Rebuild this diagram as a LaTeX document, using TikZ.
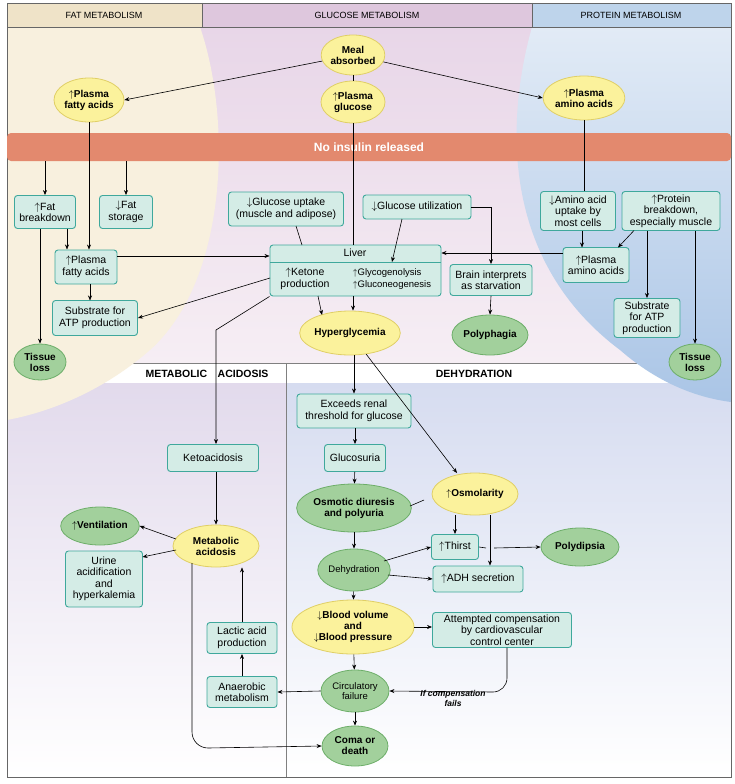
\documentclass[tikz,border=0pt]{standalone}
\usepackage{fontspec}
\setmainfont{Liberation Sans}
\usetikzlibrary{shapes.geometric,arrows.meta}
\definecolor{boxf}{HTML}{D4ECE6}\definecolor{boxd}{HTML}{3FA89C}
\definecolor{grf}{HTML}{A2D09C}\definecolor{grd}{HTML}{6DAE69}
\definecolor{yef}{HTML}{FBF29C}\definecolor{yed}{HTML}{E0CF66}
\definecolor{glt}{RGB}{232,214,232}\definecolor{glb}{RGB}{246,238,244}
\definecolor{llt}{RGB}{226,218,236}\definecolor{lrt}{RGB}{214,220,240}
\newcommand{\UA}{$\uparrow$}\newcommand{\DA}{$\downarrow$}
\begin{document}
\begin{tikzpicture}[x=1pt,y=-1pt,
 every node/.style={font=\fontsize{10.5}{11.5}\selectfont,align=center,inner sep=1pt},
 box/.style={draw=boxd,fill=boxf,line width=0.9pt,rounded corners=3pt,minimum width=#1},
 box/.default=0pt,
 gre/.style={ellipse,draw=grd,fill=grf,line width=0.8pt,font=\fontsize{10}{11}\selectfont\bfseries,inner sep=0pt},
 yel/.style={ellipse,draw=yed,fill=yef,line width=0.8pt,font=\fontsize{10}{11}\selectfont\bfseries,inner sep=0pt},
 ar/.style={-{Stealth[length=5pt,width=4pt]},line width=0.6pt},
 ln/.style={line width=0.6pt}]
\useasboundingbox (0,0) rectangle (734,784);
\fill[white] (0,0) rectangle (734,784);
% backgrounds
\shade[top color=glt,bottom color=glb] (7,27) rectangle (731,363);
\shade[top color=llt,bottom color=white] (7,383) rectangle (286,777);
\shade[top color=lrt,bottom color=white] (286,383) rectangle (731,777);
\fill[white] (7,363) rectangle (731,383);
\draw[gray,line width=1pt] (7,363) -- (731,363) (286,363) -- (286,777);
\fill[color={rgb,255:red,248;green,240;blue,222}] (7,27) -- (200,27) .. controls (232,120) and (228,280) .. (150,350) .. controls (110,385) and (60,410) .. (7,420) -- cycle;
\shade[top color={rgb,255:red,226;green,235;blue,246},bottom color={rgb,255:red,170;green,197;blue,230}] (532,27) .. controls (506,120) and (500,260) .. (620,350) .. controls (660,385) and (700,398) .. (731,402) -- (731,27) -- cycle;
% header
\fill[color={rgb,255:red,239;green,227;blue,200}] (7,3) rectangle (202,27);
\fill[color={rgb,255:red,222;green,199;blue,221}] (202,3) rectangle (532,27);
\fill[color={rgb,255:red,190;green,212;blue,235}] (532,3) rectangle (731,27);
\draw[gray!80!black,line width=0.8pt] (7,3) rectangle (731,777) (7,27) -- (731,27) (202,3) -- (202,27) (532,3) -- (532,27);
\node[font=\fontsize{9}{10}\selectfont] (h1) at (104,15) {FAT METABOLISM};
\node[font=\fontsize{9}{10}\selectfont] (h2) at (367,15) {GLUCOSE METABOLISM};
\node[font=\fontsize{9}{10}\selectfont] (h3) at (631,15) {PROTEIN METABOLISM};
\node[font=\fontsize{10.5}{11}\selectfont\bfseries] (h4) at (207,374) {METABOLIC\quad ACIDOSIS};
\node[font=\fontsize{10.5}{11}\selectfont\bfseries] (h5) at (474,374) {DEHYDRATION};
% bar
\node[fill={rgb,255:red,227;green,137;blue,110},rounded corners=4pt,minimum width=724pt,minimum height=28pt,text=white,font=\fontsize{12}{13}\selectfont\bfseries] (bar) at (369,147) {No insulin released};
% top ellipses
\node[yel,minimum width=58pt,minimum height=40pt] (meal) at (353,55) {Meal\\absorbed};
\node[yel,minimum width=70pt,minimum height=44pt] (pfa) at (89,100) {\UA Plasma\\fatty acids};
\node[yel,minimum width=64pt,minimum height=42pt] (pg) at (353,102) {\UA Plasma\\glucose};
\node[yel,minimum width=78pt,minimum height=44pt] (paa) at (584,98) {\UA Plasma\\amino acids};
% fat
\node[box=61pt,minimum height=33pt] (fb) at (45,212) {\UA Fat\\breakdown};
\node[box=53pt,minimum height=33pt] (fs) at (126,212) {\DA Fat\\storage};
\node[box=62pt,minimum height=34pt] (pfb) at (86,267) {\UA Plasma\\fatty acids};
\node[box=85pt,minimum height=35pt] (sl) at (95,318) {Substrate for\\ATP production};
\node[gre,minimum width=52pt,minimum height=36pt] (tl) at (40,362) {Tissue\\loss};
% glucose
\node[box=115pt,minimum height=34pt] (gu) at (286,209) {\DA Glucose uptake\\(muscle and adipose)};
\node[box=108pt,minimum height=24pt] (gut) at (417,207) {\DA Glucose utilization};
\node[draw=boxd,fill=boxf,line width=0.9pt,rounded corners=3pt,minimum width=171pt,minimum height=51pt] (liver) at (355.5,270.5) {};
\draw[boxd,line width=0.9pt] (270,262) -- (441,262);
\node (lv) at (355,253) {Liver};
\node (ket) at (305,279) {\UA Ketone\\production};
\node[align=left,font=\fontsize{9.5}{10.5}\selectfont] (gly) at (392,279) {\UA Glycogenolysis\\[2pt]\UA Gluconeogenesis};
\node[box=82pt,minimum height=31pt] (brain) at (491,280) {Brain interprets\\as starvation};
\node[yel,minimum width=88pt,minimum height=44pt] (hyp) at (350,333) {Hyperglycemia};
\node[gre,minimum width=76pt,minimum height=40pt] (pph) at (490,335) {Polyphagia};
% protein
\node[box=75pt,minimum height=39pt] (aau) at (578,211) {\DA Amino acid\\uptake by\\most cells};
\node[box=98pt,minimum height=39pt] (pb) at (671,211) {\UA Protein\\breakdown,\\especially muscle};
\node[box=66pt,minimum height=35pt] (pab) at (596,265) {\UA Plasma\\amino acids};
\node[box=66pt,minimum height=39pt] (sr) at (647,318) {Substrate\\for ATP\\production};
\node[gre,minimum width=52pt,minimum height=36pt] (tr) at (695,362) {Tissue\\loss};
% lower right
\node[box=114pt,minimum height=34pt] (ex) at (354,411) {Exceeds renal\\threshold for glucose};
\node[box=61pt,minimum height=27pt] (gs) at (355,458) {Glucosuria};
\node[yel,minimum width=86pt,minimum height=42pt] (osm) at (475,494) {\UA Osmolarity};
\node[gre,minimum width=112pt,minimum height=48pt] (od) at (354,508) {Osmotic diuresis\\and polyuria};
\node[gre,minimum width=68pt,minimum height=42pt,font=\fontsize{9.5}{10.5}\selectfont] (dh) at (354,570) {Dehydration};
\node[box=47pt,minimum height=25pt] (th) at (455,547) {\UA Thirst};
\node[box=90pt,minimum height=26pt] (adh) at (478,579) {\UA ADH secretion};
\node[gre,minimum width=78pt,minimum height=38pt] (pd) at (580,547) {Polydipsia};
\node[yel,minimum width=122pt,minimum height=54pt] (bv) at (353,627) {\DA Blood volume\\and\\\DA Blood pressure};
\node[box=139pt,minimum height=35pt] (att) at (502,630) {Attempted compensation\\by cardiovascular\\control center};
\node[gre,minimum width=68pt,minimum height=42pt,font=\fontsize{9.5}{10.5}\selectfont] (cf) at (355,691) {Circulatory\\failure};
\node[gre,minimum width=66pt,minimum height=40pt] (cd) at (355,746) {Coma or\\death};
% lower left
\node[box=91pt,minimum height=27pt] (ka) at (213,458) {Ketoacidosis};
\node[yel,minimum width=86pt,minimum height=42pt] (ma) at (216,546) {Metabolic\\acidosis};
\node[gre,minimum width=76pt,minimum height=38pt] (ve) at (100,526) {\UA Ventilation};
\node[box=77pt,minimum height=56pt] (ur) at (104,579) {Urine\\acidification\\and\\hyperkalemia};
\node[box=70pt,minimum height=31pt] (la) at (242,638) {Lactic acid\\production};
\node[box=70pt,minimum height=31pt] (an) at (242,692) {Anaerobic\\metabolism};
\node[font=\fontsize{8.5}{10}\selectfont\bfseries\itshape] (ifc) at (453,698) {If compensation\\fails};
\coordinate (c1) at (216,330);
% edges
\draw[ar] (meal) -- (pfa.east);
\draw[ar] (meal) -- (paa.west);
\draw[ln] (meal) -- (pg);
\draw[ln] (pg.south) -- (pg.south |- liver.north);
\draw[ar] (pfa.south) -- (pfa.south |- pfb.north);
\draw[ar] (fb.north |- bar.south) -- (fb.north);
\draw[ar] (fs.north |- bar.south) -- (fs.north);
\draw[ar] (67,228.5) -- (67,249.5);
\draw[ar] (fb.south -| tl.north) -- (tl.north);
\draw[ar] (90,284) -- (90,300.5);
\draw[ar] (117,256) -- (liver.west |- 0,256);
\draw[ar] (270,278) -- (sl.east);
\draw[ln] (296,226) -- (302,245);
\draw[ar] (402,219) -- (392,262);
\draw[ar] (gut.east) -- (491,207) -- (brain.north);
\draw[ar] (pab.west |- lv) -- (liver.east |- lv);
\draw[ln] (paa.south) -- (paa.south |- aau.north);
\draw[ar] (582,230.5) -- (582,247.5);
\draw[ar] (634,230.5) -- (618,247.5);
\draw[ar] (pb.south -| sr.north) -- (sr.north);
\draw[ar] (pb.south -| tr.north) -- (tr.north);
\draw[ar] (318,296) -- (322,315);
\draw[ar] (353,296) -- (hyp.north -| 353,0);
\draw[ar] (brain.south) -- (pph.north);
\draw[ar] (liver.south west) -- (c1) -- (ka.north -| c1);
\draw[ar] (hyp.south -| ex.north) -- (ex.north);
\draw[ar] (hyp) -- (457,473);
\draw[ar] (ex.south -| gs.north) -- (gs.north);
\draw[ar] (gs) -- (od);
\draw[ar] (od) -- (dh);
\draw[ar] (dh) -- (bv);
\draw[ar] (bv) -- (cf);
\draw[ar] (cf) -- (cd);
\draw[ln] (410,506) -- (424,500);
\draw[ar] (osm.south -| th.north) -- (th.north);
\draw[ar] (osm.south -| 490,0) -- (adh.north -| 490,0);
\draw[ln] (th.east) -- (486,548);
\draw[ar] (494,548) -- (pd.west);
\draw[ar] (384,561) -- (th.west);
\draw[ar] (388,575) -- (adh.west);
\draw[ar] (bv.east) -- (att.west |- bv.east);
\draw[ar] (507,647.5) -- (507,678) to[out=-90,in=0] (493,692) -- (cf.east);
\draw[ar] (cf.west) -- (an.east);
\draw[ar] (an.north) -- (la.south);
\draw[ar] (la.north) -- (la.north |- ma.south);
\draw[ar] (ka.south -| ma.north) -- (ma.north);
\draw[ar] (176,539) -- (ve.east);
\draw[ar] (176,550) -- (142.5,557);
\draw[ar] (192,563) -- (192,732) to[out=-90,in=180] (208,748) -- (cd.west);
\end{tikzpicture}
\end{document}
